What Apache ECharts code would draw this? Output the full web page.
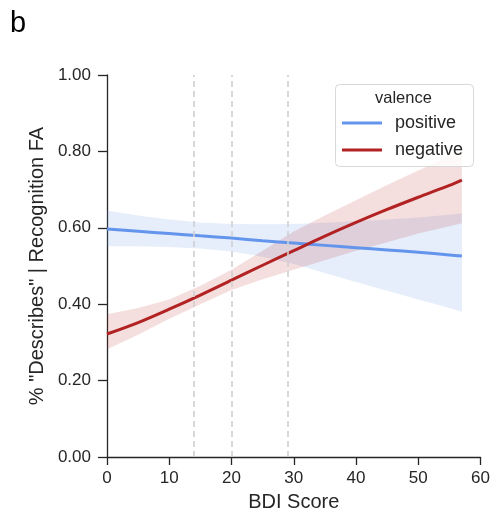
<!DOCTYPE html>
<html>
<head>
<meta charset="utf-8">
<script src="https://cdn.jsdelivr.net/npm/echarts@6/dist/echarts.min.js"></script>
<style>
html,body{margin:0;padding:0;background:#fff;}
#c{width:493px;height:518px;}
</style>
</head>
<body>
<div id="c"></div>
<script>
// ---- data ----
const bdi      = [0, 5, 10, 15, 20, 25, 30, 35, 40, 45, 50, 55, 57];
const posMean  = [0.597,0.591,0.585,0.579,0.573,0.566,0.560,0.554,0.548,0.542,0.536,0.529,0.526];
const posLow   = [0.552,0.552,0.550,0.546,0.538,0.524,0.505,0.482,0.458,0.435,0.412,0.390,0.380];
const posHigh  = [0.645,0.632,0.622,0.614,0.610,0.609,0.610,0.613,0.617,0.622,0.627,0.634,0.638];
const negMean  = [0.322,0.352,0.387,0.424,0.463,0.502,0.540,0.578,0.614,0.648,0.680,0.711,0.725];
const negLow   = [0.282,0.320,0.362,0.400,0.437,0.465,0.490,0.515,0.540,0.562,0.585,0.604,0.612];
const negHigh  = [0.374,0.390,0.412,0.448,0.490,0.540,0.590,0.632,0.672,0.712,0.750,0.786,0.800];
const cutoffs  = [14, 20, 29];
const xTicks   = [0, 10, 20, 30, 40, 50, 60];
const yTicks   = [0, 0.2, 0.4, 0.6, 0.8, 1.0];
const seriesNames = ['positive', 'negative'];

const pair = (xs, ys) => xs.map((x, i) => [x, ys[i]]);

const BLUE = '#6495ED', RED = '#B22222', TXT = '#262626';
const FONT = 'Liberation Sans, Arial, sans-serif';

function bandSeries(name, lo, hi, fill) {
  return {
    name: name, type: 'custom', silent: true, z: 1,
    data: bdi.map((x, i) => [x, lo[i], hi[i]]),
    encode: {x: 0, y: [1, 2]},
    renderItem: function (params, api) {
      if (params.dataIndex !== 0) return null;
      const pts = [];
      for (let i = 0; i < bdi.length; i++) pts.push(api.coord([bdi[i], hi[i]]));
      for (let i = bdi.length - 1; i >= 0; i--) pts.push(api.coord([bdi[i], lo[i]]));
      return {type: 'polygon', shape: {points: pts}, style: {fill: fill, stroke: null}};
    }
  };
}

const chart = echarts.init(document.getElementById('c'), null, {renderer: 'canvas'});
chart.setOption({
  animation: false,
  backgroundColor: '#fff',
  textStyle: {fontFamily: FONT, color: TXT},
  grid: {left: 107, right: 12, top: 75, bottom: 61, containLabel: false},
  xAxis: {
    type: 'value', min: xTicks[0], max: xTicks[xTicks.length-1], interval: 10,
    name: 'BDI Score', nameLocation: 'middle', nameGap: 35,
    nameTextStyle: {fontSize: 20, color: TXT, fontFamily: FONT},
    axisLine: {onZero: false, lineStyle: {color: TXT, width: 1.3}},
    axisTick: {show: true, length: 8, lineStyle: {color: TXT, width: 1.3}},
    axisLabel: {fontSize: 17, color: TXT, margin: 13, fontFamily: FONT},
    splitLine: {show: false}
  },
  yAxis: {
    type: 'value', min: yTicks[0], max: yTicks[yTicks.length-1], interval: 0.2,
    name: '% "Describes" | Recognition FA', nameLocation: 'middle', nameGap: 60,
    nameTextStyle: {fontSize: 20, color: TXT, fontFamily: FONT},
    axisLine: {show: true, onZero: false, lineStyle: {color: TXT, width: 1.3}},
    axisTick: {show: true, length: 9, lineStyle: {color: TXT, width: 1.3}},
    axisLabel: {fontSize: 17, color: TXT, margin: 16, fontFamily: FONT,
      formatter: v => v.toFixed(2)},
    splitLine: {show: false}
  },
  legend: {
    data: seriesNames.map(n => ({name: n, icon: 'rect'})),
    orient: 'vertical', left: 342, top: 113, padding: 0,
    itemWidth: 40, itemHeight: 3, itemGap: 7, z: 20,
    textStyle: {fontSize: 18, color: TXT, fontFamily: FONT, lineHeight: 20, padding: [0,0,0,8]},
    selectedMode: false
  },
  graphic: [
    {type: 'text', left: 10, top: 9, z: 30,
     style: {text: 'b', fontSize: 29, fontFamily: FONT, fill: '#000'}},
    {type: 'rect', left: 335, top: 84, z: 15,
     shape: {width: 138, height: 82, r: 4},
     style: {fill: 'rgba(255,255,255,0.8)', stroke: '#d8d8d8', lineWidth: 1}},
    {type: 'text', left: 375, top: 90, z: 20,
     style: {text: 'valence', fontSize: 16.5, fontFamily: FONT, fill: TXT}}
  ],
  series: [
    bandSeries('posBand', posLow, posHigh, 'rgba(100,149,237,0.16)'),
    bandSeries('negBand', negLow, negHigh, 'rgba(178,34,34,0.15)'),
    {name: 'cutoffs', type: 'line', data: [], silent: true, z: 2,
     markLine: {symbol: 'none', silent: true, label: {show: false},
       lineStyle: {color: '#cfcfcf', type: [6, 4], width: 1.6},
       data: cutoffs.map(v => ({xAxis: v}))}},
    {name: 'positive', type: 'line', data: pair(bdi, posMean), showSymbol: false,
     smooth: 0.3, color: BLUE, lineStyle: {color: BLUE, width: 3}, z: 3},
    {name: 'negative', type: 'line', data: pair(bdi, negMean), showSymbol: false,
     smooth: 0.3, color: RED, lineStyle: {color: RED, width: 3}, z: 3}
  ]
});
</script>
</body>
</html>
